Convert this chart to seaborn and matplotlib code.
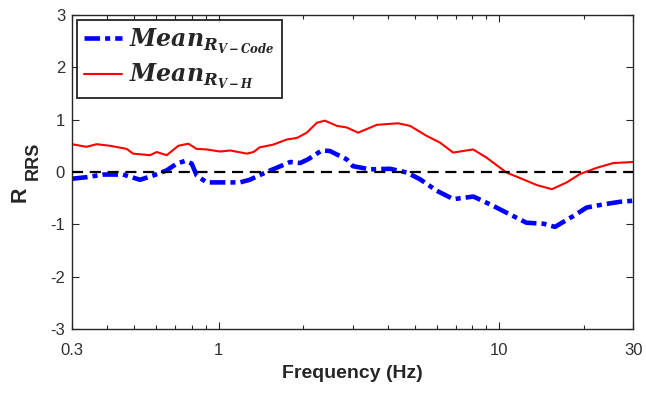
import numpy as np
import pandas as pd
import matplotlib
matplotlib.use("Agg")
import matplotlib.pyplot as plt
import seaborn as sns
from matplotlib.ticker import FixedLocator, NullFormatter, LogLocator

# ---- data ----
freq_code = [0.30, 0.338, 0.387, 0.456, 0.483, 0.524, 0.583, 0.653, 0.709, 0.759,
             0.801, 0.835, 0.906, 1.01, 1.19, 1.29, 1.40, 1.56, 1.80, 1.95,
             2.08, 2.33, 2.49, 2.86, 3.01, 3.46, 4.08, 4.68, 5.22, 5.99,
             6.87, 8.09, 9.53, 10.9, 12.5, 14.4, 15.8, 18.4, 20.5, 23.5,
             27.0, 30.0]
mean_code = [-0.13, -0.10, -0.05, -0.05, -0.09, -0.15, -0.07, 0.03, 0.16, 0.21,
             0.16, -0.07, -0.20, -0.20, -0.20, -0.15, -0.06, 0.05, 0.19, 0.17,
             0.24, 0.41, 0.40, 0.24, 0.11, 0.05, 0.06, -0.01, -0.14, -0.36,
             -0.52, -0.47, -0.65, -0.81, -0.97, -0.99, -1.05, -0.84, -0.68, -0.62,
             -0.57, -0.55]

freq_h = [0.30, 0.338, 0.367, 0.410, 0.470, 0.495, 0.569, 0.601, 0.653, 0.718,
          0.779, 0.835, 0.906, 1.01, 1.10, 1.26, 1.33, 1.40, 1.56, 1.75,
          1.90, 2.06, 2.24, 2.39, 2.64, 2.86, 3.14, 3.66, 4.36, 4.81,
          5.51, 6.15, 6.85, 8.07, 9.03, 10.6, 11.9, 13.6, 15.4, 17.4,
          19.4, 22.3, 25.5, 30.0]
mean_h = [0.53, 0.48, 0.53, 0.50, 0.44, 0.35, 0.32, 0.38, 0.32, 0.50,
          0.54, 0.44, 0.43, 0.39, 0.41, 0.35, 0.38, 0.47, 0.52, 0.62,
          0.65, 0.75, 0.94, 0.98, 0.88, 0.85, 0.75, 0.90, 0.93, 0.88,
          0.69, 0.56, 0.37, 0.43, 0.27, -0.01, -0.12, -0.25, -0.33, -0.20,
          -0.04, 0.08, 0.17, 0.19]

x_ticks = [0.3, 1, 10, 30]
x_tick_labels = ["0.3", "1", "10", "30"]
y_ticks = [-3, -2, -1, 0, 1, 2, 3]

label_code = r"$\mathbfit{Mean}_{\mathbfit{R}_{\mathbfit{V-Code}}}$"
label_h = r"$\mathbfit{Mean}_{\mathbfit{R}_{\mathbfit{V-H}}}$"

df = pd.concat([
    pd.DataFrame({"freq": freq_code, "R": mean_code, "series": label_code}),
    pd.DataFrame({"freq": freq_h, "R": mean_h, "series": label_h}),
], ignore_index=True)

# ---- style ----
sns.set_style("ticks")
plt.rcParams["font.family"] = ["Liberation Sans", "DejaVu Sans"]
plt.rcParams["mathtext.fontset"] = "custom"
plt.rcParams["mathtext.rm"] = "DejaVu Serif:bold"
plt.rcParams["mathtext.bfit"] = "DejaVu Serif:bold:italic"
plt.rcParams["mathtext.bf"] = "DejaVu Serif:bold"
plt.rcParams["axes.edgecolor"] = "#262626"
plt.rcParams["axes.linewidth"] = 1.0

fig = plt.figure(figsize=(6.46, 3.93), dpi=100)
ax = fig.add_axes([0.1115, 0.163, 0.8685, 0.799])

sns.lineplot(data=df, x="freq", y="R", hue="series", style="series",
             palette={label_code: "#0000ff", label_h: "#ff0000"},
             dashes={label_code: (3.4, 1.1, 1.1, 1.1), label_h: ""},
             sort=False, estimator=None, ax=ax, legend=False)
lines = ax.get_lines()
lines[0].set_linewidth(3.3)
lines[1].set_linewidth(1.5)

ax.axhline(0, color="black", lw=1.6, ls=(0, (5, 3)), zorder=3)

ax.set_xscale("log")
ax.set_xlim(0.3, 30)
ax.set_ylim(-3, 3)
ax.xaxis.set_major_locator(FixedLocator(x_ticks))
ax.set_xticklabels(x_tick_labels)
ax.xaxis.set_minor_locator(LogLocator(base=10, subs=np.arange(2, 10)))
ax.xaxis.set_minor_formatter(NullFormatter())
ax.set_yticks(y_ticks)
ax.set_yticklabels([str(v) for v in y_ticks])

for s in ax.spines.values():
    s.set_visible(True)
ax.tick_params(which="both", direction="in", top=True, right=True,
               labelsize=12, colors="#262626", labelcolor="#303030")
ax.tick_params(which="major", length=5, width=0.8)
ax.tick_params(which="minor", length=3, width=0.8)
ax.tick_params(axis="x", pad=10)
ax.tick_params(axis="y", pad=5)

ax.set_xlabel("Frequency (Hz)", fontsize=14, fontweight="bold", color="#262626",
              labelpad=5)
# y label: big "R" with a separate smaller "RRS" subscript, as in the original
ax.set_ylabel("")
fig.text(20.5 / 646, 1 - 194.5 / 393, "R", rotation=90, fontsize=15.5,
         fontweight="bold", color="#262626", ha="center", va="center")
fig.text(33.5 / 646, 1 - 160.5 / 393, "RRS", rotation=90, fontsize=13,
         fontweight="bold", color="#262626", ha="center", va="center")

leg = ax.legend(handles=lines[:2], labels=[label_code, label_h],
                loc="upper left", bbox_to_anchor=(0.009, 0.985),
                fontsize=17, frameon=True, fancybox=False,
                edgecolor="black", handlelength=1.6, handletextpad=0.3,
                borderpad=0.3, labelspacing=0.25, borderaxespad=0.0)
leg.get_frame().set_linewidth(1.4)

fig.savefig("out.png", dpi=100)
